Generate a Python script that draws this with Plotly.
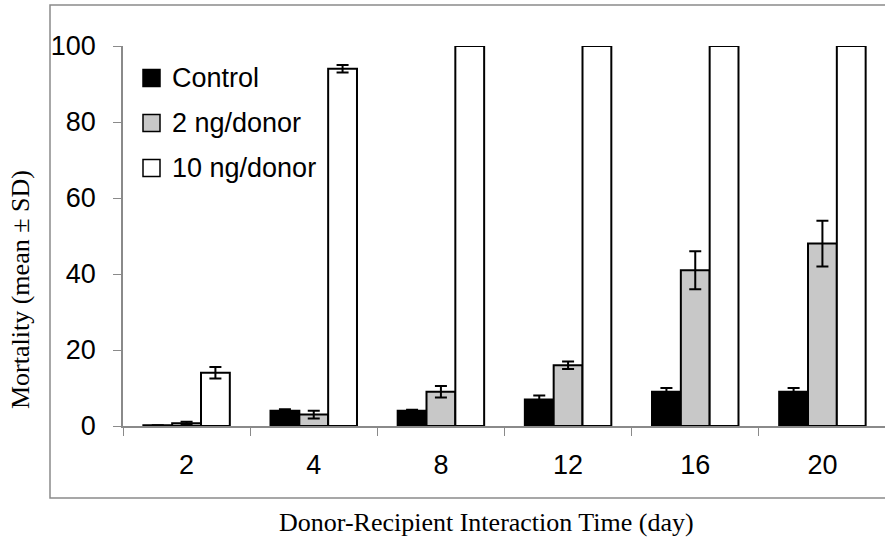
import plotly.graph_objects as go

days = ["2", "4", "8", "12", "16", "20"]
control = [0.2, 4, 4, 7, 9, 9]
control_sd = [0, 0.4, 0.3, 1, 1, 1]
ng2 = [0.7, 3, 9, 16, 41, 48]
ng2_sd = [0.4, 1, 1.5, 1, 5, 6]
ng10 = [14, 94, 100, 100, 100, 100]
ng10_sd = [1.5, 1, 0, 0, 0, 0]
series_names = ["Control", "2 ng/donor", "10 ng/donor"]
series_colors = ["black", "#c8c8c8", "white"]

W, H = 885, 542
L, R, T, B = 123, 885, 46, 426

def px_x(px):
    return (px - L) / (R - L)

def px_y(py):
    return (B - py) / (B - T)

fig = go.Figure()
for name, vals, sd, col in zip(series_names, [control, ng2, ng10],
                               [control_sd, ng2_sd, ng10_sd], series_colors):
    fig.add_trace(go.Bar(
        x=days, y=vals, name=name, showlegend=False,
        marker=dict(color=col, line=dict(color="black", width=2)),
        error_y=dict(type="data", array=sd, visible=True, color="black",
                     thickness=2, width=6),
    ))

# outer frame
fig.add_shape(type="rect", xref="paper", yref="paper",
              x0=px_x(50), x1=px_x(892), y0=px_y(498), y1=px_y(5),
              line=dict(color="#8a8a8a", width=1.5), fillcolor="rgba(0,0,0,0)",
              layer="below")

# legend (drawn manually so the swatches match the reference size)
leg_rows = [78, 123, 168]
for name, col, yc in zip(series_names, series_colors, leg_rows):
    fig.add_shape(type="rect", xref="paper", yref="paper",
                  x0=px_x(143), x1=px_x(160), y0=px_y(yc + 8.5), y1=px_y(yc - 8.5),
                  line=dict(color="black", width=1.5), fillcolor=col)
    fig.add_annotation(text=name, xref="paper", yref="paper",
                       x=px_x(170), y=px_y(yc), xanchor="left", yanchor="middle",
                       showarrow=False,
                       font=dict(family="Liberation Sans", size=27, color="black"))

fig.add_annotation(text="Mortality (mean ± SD)", xref="paper", yref="paper",
                   x=px_x(20), y=px_y(290), textangle=-90, showarrow=False,
                   xanchor="center", yanchor="middle",
                   font=dict(family="Liberation Serif", size=26, color="black"))
fig.add_annotation(text="Donor-Recipient Interaction Time (day)", xref="paper", yref="paper",
                   x=px_x(486), y=px_y(522), showarrow=False,
                   xanchor="center", yanchor="middle",
                   font=dict(family="Liberation Serif", size=26, color="black"))

fig.update_layout(
    width=W, height=H,
    margin=dict(l=L, r=W - R, t=T, b=H - B, autoexpand=False),
    paper_bgcolor="white", plot_bgcolor="white",
    barmode="group", bargap=0.32, bargroupgap=0,
    showlegend=False,
    font=dict(family="Liberation Sans", size=27, color="black"),
    xaxis=dict(range=[-0.5, 5.5 - 1 / 127], showgrid=False, showline=True,
               linecolor="#8a8a8a", linewidth=1.5, ticks="outside",
               tickson="boundaries", ticklen=8, tickcolor="#8a8a8a",
               ticklabelstandoff=14,
               tickfont=dict(family="Liberation Sans", size=27)),
    yaxis=dict(range=[0, 100], showgrid=False, showline=True, zeroline=False,
               linecolor="#8a8a8a", linewidth=1.5, ticks="outside", ticklen=8,
               tickcolor="#8a8a8a", tickvals=[0, 20, 40, 60, 80, 100],
               ticklabelstandoff=12,
               tickfont=dict(family="Liberation Sans", size=27)),
)

fig.write_html("out.html", config={"displayModeBar": False},
               post_script="document.body.style.margin='0';")
